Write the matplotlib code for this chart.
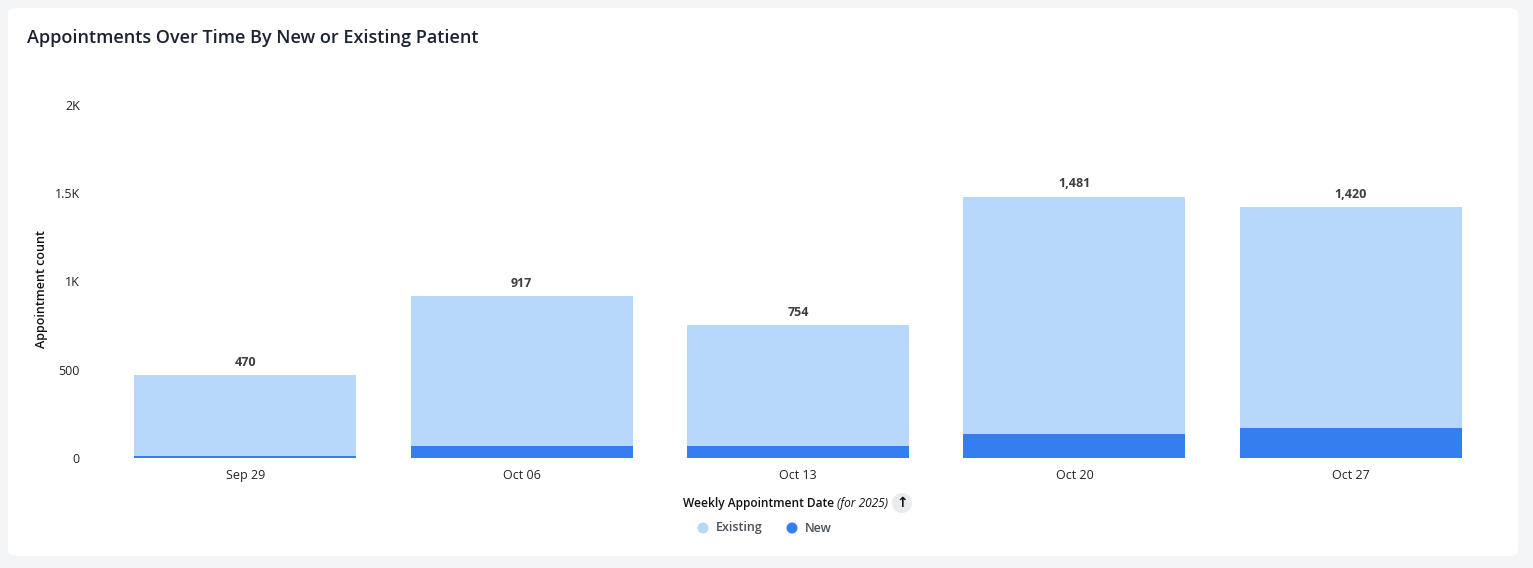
import matplotlib
matplotlib.use("Agg")
import matplotlib.pyplot as plt
from matplotlib.patches import FancyBboxPatch, Ellipse
import numpy as np

plt.rcParams['font.family'] = ['Open Sans', 'DejaVu Sans']

weeks = ["Sep 29", "Oct 06", "Oct 13", "Oct 20", "Oct 27"]
totals = [470, 917, 754, 1481, 1420]
new_vals = [10, 68, 68, 136, 170]
existing_vals = [t - n for t, n in zip(totals, new_vals)]
yticks = [0, 500, 1000, 1500, 2000]
yticklabels = ["0", "500", "1K", "1.5K", "2K"]

W, H = 1533, 568
fig = plt.figure(figsize=(W / 100, H / 100), dpi=100)
fig.patch.set_facecolor("#f4f5f7")

card = FancyBboxPatch((8 / W, 12 / H), (1518 - 8) / W, (560 - 12) / H,
                      boxstyle="round,pad=0,rounding_size=0.008",
                      transform=fig.transFigure, facecolor="white",
                      edgecolor="none", zorder=-10)
fig.patches.append(card)

ax_l, ax_r = 107 / W, 1489 / W
ax_b, ax_t = 1 - 458 / H, 1 - 105 / H
ax = fig.add_axes([ax_l, ax_b, ax_r - ax_l, ax_t - ax_b], zorder=5)
ax.set_facecolor("none")

x = np.arange(len(weeks))
width = 0.803
c_exist = "#b8d8fb"
c_new = "#347ef0"
ax.bar(x, new_vals, width=width, color=c_new, zorder=2)
ax.bar(x, existing_vals, width=width, bottom=new_vals, color=c_exist, zorder=2)

for xi, t in zip(x, totals):
    ax.annotate(f"{t:,}", (xi, t), xytext=(0, 4.5), textcoords="offset points",
                ha="center", va="bottom", fontsize=9, fontweight="bold",
                color="#3d3d3d")

ax.set_xlim(-0.5, len(weeks) - 0.5)
ax.set_ylim(0, 2000)
ax.set_yticks(yticks)
ax.set_yticklabels(yticklabels)
ax.set_xticks(x)
ax.set_xticklabels(weeks)
ax.tick_params(axis="both", length=0, labelsize=9, colors="#222222")
ax.tick_params(axis="y", pad=19.5)
ax.tick_params(axis="x", pad=8)
for s in ax.spines.values():
    s.set_visible(False)

fig.text(41 / W, 1 - 289 / H, "Appointment count", rotation=90, ha="center",
         va="center", fontsize=9, fontweight="semibold", color="#111111")

fig.text(27 / W, 1 - 38 / H, "Appointments Over Time By New or Existing Patient",
         ha="left", va="center", fontsize=13, fontweight="semibold",
         color="#1b2230")

fig.text(834 / W, 1 - 503 / H, "Weekly Appointment Date", ha="right", va="center",
         fontsize=8.6, fontweight="semibold", color="#111111")
fig.text(837 / W, 1 - 503 / H, "(for 2025)", ha="left", va="center",
         fontsize=8.6, style="italic", color="#111111")
circ = Ellipse((902 / W, 1 - 503 / H), 20 / W, 20 / H,
               transform=fig.transFigure, facecolor="#e9ebef", edgecolor="none")
fig.patches.append(circ)
fig.text(902 / W, 1 - 503 / H, "↑", ha="center", va="center", fontsize=10,
         fontweight="bold", color="#111111", family="DejaVu Sans")

legend_items = [("Existing", c_exist, 703), ("New", c_new, 792)]
for label, col, px in legend_items:
    e = Ellipse((px / W, 1 - 528 / H), 11 / W, 11 / H,
                transform=fig.transFigure, facecolor=col, edgecolor="none")
    fig.patches.append(e)
    fig.text((px + 13) / W, 1 - 528 / H, label, ha="left", va="center",
             fontsize=9, fontweight="semibold", color="#4a4f5a")

fig.savefig("out.png", dpi=100, facecolor=fig.get_facecolor())
